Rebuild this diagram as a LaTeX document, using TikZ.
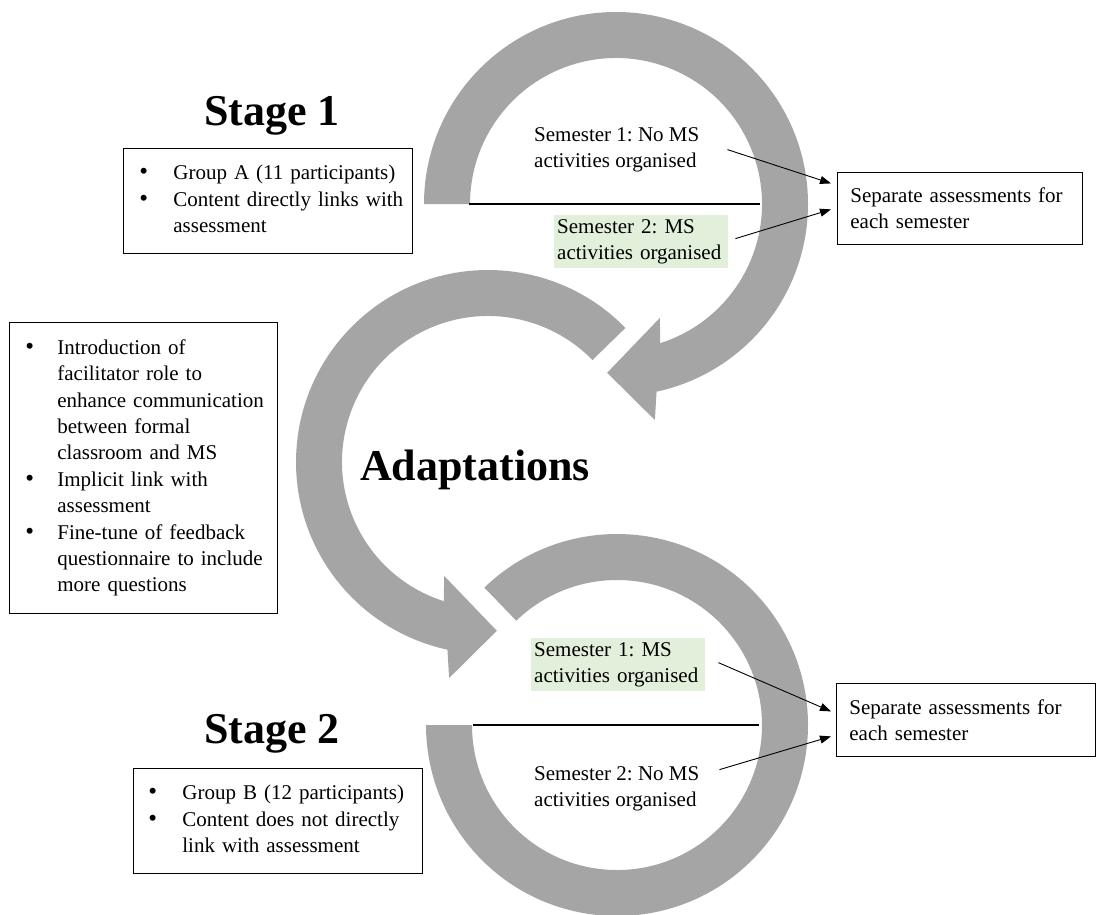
\documentclass[tikz,border=0pt]{standalone}
\usepackage{fontspec}
\setmainfont{Liberation Serif}
\usetikzlibrary{arrows.meta}
\definecolor{ringgray}{HTML}{A5A5A5}
\definecolor{semgreen}{HTML}{E2EFDA}
\frenchspacing
\newcommand{\bigbul}{{\fontsize{25}{26}\selectfont\textbullet}}
\begin{document}
\begin{tikzpicture}[x=1pt,y=1pt,
  ring/.style={fill=ringgray,draw=none},
  txt/.style={font=\fontsize{21}{26.4}\selectfont, inner sep=0pt, align=left, anchor=north west},
  titletxt/.style={font=\fontsize{44}{50}\selectfont\bfseries, inner sep=0pt, anchor=base},
  listbox/.style={draw, line width=0.8pt, font=\fontsize{21}{26.4}\selectfont, inner sep=0pt, anchor=north west, align=left},
  greenbox/.style={fill=semgreen, font=\fontsize{21}{26.4}\selectfont, inner xsep=3pt, inner ysep=4pt, anchor=north west, align=left, text width=168pt},
  sepbox/.style={draw, line width=0.8pt, font=\fontsize{21}{26.4}\selectfont, inner xsep=13pt, inner ysep=0pt, anchor=north west, align=left},
  conn/.style={-{Triangle[length=11pt,width=8pt]}, line width=0.9pt},
  divider/.style={line width=2pt}
]
\useasboundingbox (0,0) rectangle (1102,-914);

% rings
\fill[ring] ([shift={(616,-204)}]180:192) arc[start angle=180,end angle=-77.8,radius=192]
  -- ([shift={(616,-204)}]-79.8:219.5) -- ([shift={(616,-204)}]-93:169)
  -- ([shift={(616,-204)}]-68.9:122) -- ([shift={(616,-204)}]-72.4:146)
  arc[start angle=-72.4,end angle=180,radius=146] -- cycle;
\fill[ring] ([shift={(488,-462)}]44.3:192) arc[start angle=44.3,end angle=257.8,radius=192]
  -- ([shift={(488,-462)}]259.8:219.5) -- ([shift={(488,-462)}]273:169)
  -- ([shift={(488,-462)}]248.9:122) -- ([shift={(488,-462)}]252.4:146)
  arc[start angle=252.4,end angle=44.3,radius=146] -- cycle;
\fill[ring] ([shift={(617,-725)}]134:191) arc[start angle=134,end angle=-180,radius=191]
  -- ([shift={(617,-725)}]180:145) arc[start angle=-180,end angle=134,radius=145] -- cycle;

\draw[divider] (469,-204) -- (760,-204);
\draw[divider] (473,-725) -- (759,-725);

% titles
\node[titletxt] (st1) at (272,-125) {Stage 1};
\node[titletxt] (st2) at (272,-743) {Stage 2};
\node[titletxt] (adapt) at (475,-480) {Adaptations};

% bullet boxes
\node[listbox, text width=289pt, minimum height=105pt] (g1) at (123,-148) {\noindent\begin{tabular}{@{\hspace{16pt}}p{34pt}@{}l@{}}
\bigbul & Group A (11 participants)\\
\bigbul & Content directly links with\\
 & assessment
\end{tabular}\par\vspace{10pt}};

\node[listbox, text width=268pt, minimum height=291pt] (ad) at (9,-322) {\noindent\begin{tabular}{@{\hspace{16pt}}p{32pt}@{}l@{}}
\bigbul & Introduction of\\
 & facilitator role to\\
 & enhance communication\\
 & between formal\\
 & classroom and MS\\
\bigbul & Implicit link with\\
 & assessment\\
\bigbul & Fine-tune of feedback\\
 & questionnaire to include\\
 & more questions
\end{tabular}\par\vspace{16pt}};

\node[listbox, text width=289pt, minimum height=105pt] (g2) at (133,-768) {\noindent\begin{tabular}{@{\hspace{15pt}}p{34pt}@{}l@{}}
\bigbul & Group B (12 participants)\\
\bigbul & Content does not directly\\
 & link with assessment
\end{tabular}\par\vspace{8pt}};

% semester texts
\node[txt] (t1) at (534,-127) {Semester 1: No MS\\activities organised};
\node[greenbox] (t2) at (554,-215) {Semester 2: MS\\activities organised};
\node[greenbox] (b1) at (531,-638) {Semester 1: MS\\activities organised};
\node[txt] (b2) at (534,-766) {Semester 2: No MS\\activities organised};

% assessment boxes
\node[sepbox, text width=219pt, minimum height=72pt] (r1) at (837,-172) {Separate assessments for\\each semester};
\node[sepbox, text width=233pt, minimum height=73pt] (r2) at (836,-683) {Separate assessments for\\each semester};

% connectors
\draw[conn] ([xshift=28pt]t1.east) -- ([shift={(-6pt,25pt)}]r1.west);
\draw[conn] ([shift={(7pt,3pt)}]t2.east) -- ([shift={(-6pt,-1pt)}]r1.west);
\draw[conn] ([shift={(13pt,2pt)}]b1.east) -- ([shift={(-5pt,8.5pt)}]r2.west);
\draw[conn] ([shift={(20pt,19pt)}]b2.east) -- ([shift={(-5pt,-16.5pt)}]r2.west);
\end{tikzpicture}
\end{document}
